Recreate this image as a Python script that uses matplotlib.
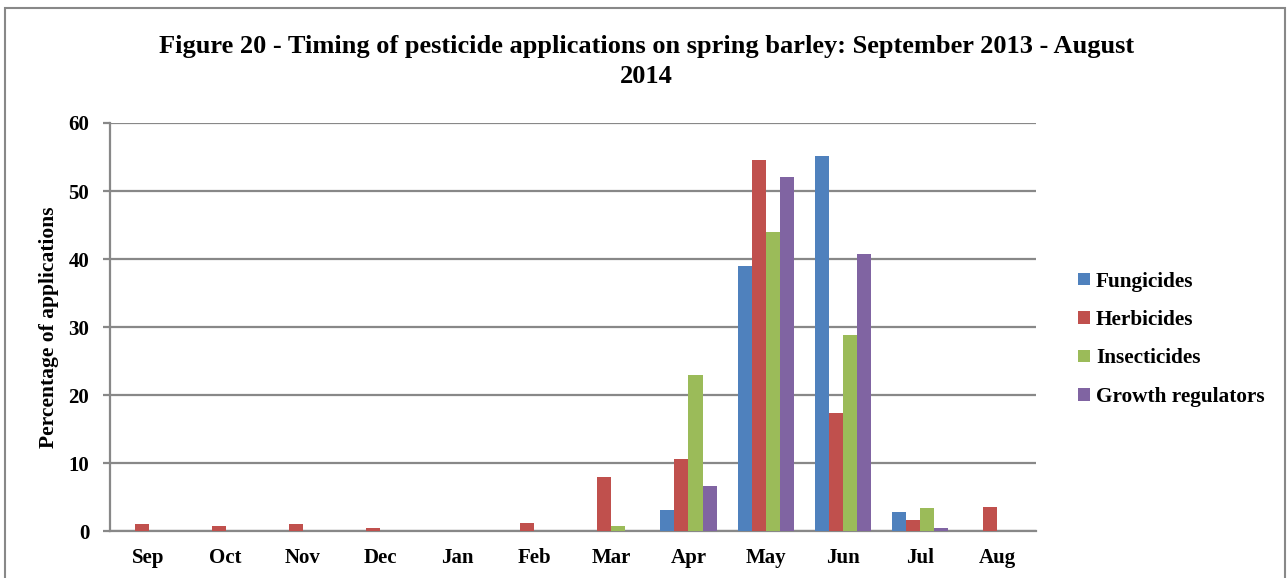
import numpy as np
import matplotlib.pyplot as plt
from matplotlib.patches import Rectangle

months = ['Sep', 'Oct', 'Nov', 'Dec', 'Jan', 'Feb', 'Mar', 'Apr', 'May', 'Jun', 'Jul', 'Aug']
fungicides = [0, 0, 0, 0, 0, 0, 0, 3.1, 39.0, 55.2, 2.8, 0]
herbicides = [1.1, 0.8, 1.1, 0.4, 0, 1.2, 7.9, 10.6, 54.6, 17.3, 1.6, 3.5]
insecticides = [0, 0, 0, 0, 0, 0, 0.7, 23.0, 44.0, 28.8, 3.4, 0]
growth_regulators = [0, 0, 0, 0, 0, 0, 0, 6.6, 52.0, 40.8, 0.4, 0]

series = [('Fungicides', fungicides, '#4F81BD'),
          ('Herbicides', herbicides, '#C0504D'),
          ('Insecticides', insecticides, '#9BBB59'),
          ('Growth regulators', growth_regulators, '#8064A2')]

plt.rcParams['font.family'] = ['Liberation Serif', 'DejaVu Serif']
plt.rcParams['font.weight'] = 'bold'

fig = plt.figure(figsize=(12.88, 5.78), dpi=100)
ax = fig.add_axes([0.0854, 0.0813, 0.7186, 0.7059])

x = np.arange(len(months))
w = 0.182
for i, (name, vals, col) in enumerate(series):
    ax.bar(x + (i - 1.5) * w, vals, w, color=col, label=name, zorder=3)

ax.set_xlim(-0.5, len(months) - 0.5)
ax.set_ylim(0, 60)
ax.set_yticks(range(0, 61, 10))
ax.set_xticks(x)
ax.set_xticklabels(months)
ax.yaxis.grid(True, color='#888888', linewidth=1.6, zorder=0)
for s in ['top', 'right']:
    ax.spines[s].set_visible(False)
for s in ['left', 'bottom']:
    ax.spines[s].set_color('#888888')
    ax.spines[s].set_linewidth(1.6)
ax.tick_params(axis='y', length=5, color='#888888', width=1.6, labelsize=15, pad=10)
ax.tick_params(axis='x', length=0, labelsize=15, pad=12)
for lab in ax.get_xticklabels() + ax.get_yticklabels():
    lab.set_fontweight('bold')

ax.set_ylabel('Percentage of applications', fontsize=15.5, fontweight='bold', labelpad=7)

fig.text(0.502, 0.893, 'Figure 20 - Timing of pesticide applications on spring barley: September 2013 - August\n2014',
         ha='center', va='center', fontsize=19, fontweight='bold', linespacing=1.4)

leg = ax.legend(loc='center left', bbox_to_anchor=(1.025, 0.47), frameon=False,
                prop={'size': 15.3, 'weight': 'bold'}, handlelength=0.55, handleheight=0.55,
                handletextpad=0.3, labelspacing=0.87)

fig.patches.append(Rectangle((0.004, -0.01), 0.994, 0.996, transform=fig.transFigure,
                             fill=False, edgecolor='#888888', linewidth=1.5))

fig.savefig('out.png', dpi=100)
